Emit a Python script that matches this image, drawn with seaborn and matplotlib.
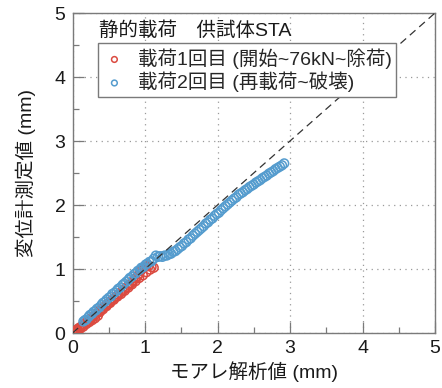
import matplotlib
matplotlib.use("Agg")
import matplotlib.pyplot as plt
import seaborn as sns
import pandas as pd
from matplotlib.ticker import MultipleLocator

# First loading: start -> 76 kN -> unloading (moire value, gauge value) in mm
load1_points = [
    (0.00, 0.00), (0.01, 0.01), (0.02, 0.01), (0.03, 0.02), (0.05, 0.04),
    (0.07, 0.06), (0.09, 0.08), (0.12, 0.10), (0.15, 0.13), (0.18, 0.16),
    (0.21, 0.18), (0.24, 0.21), (0.27, 0.24), (0.30, 0.27), (0.33, 0.30),
    (0.36, 0.33), (0.39, 0.36), (0.42, 0.39), (0.45, 0.42), (0.48, 0.45),
    (0.51, 0.48), (0.54, 0.51), (0.57, 0.54), (0.60, 0.57), (0.63, 0.60),
    (0.66, 0.63), (0.69, 0.66), (0.72, 0.69), (0.75, 0.72), (0.78, 0.75),
    (0.81, 0.78), (0.84, 0.82), (0.87, 0.85), (0.90, 0.89), (0.92, 0.93),
    (0.94, 0.97), (0.96, 1.01), (0.99, 1.03), (1.02, 1.04), (1.05, 1.05),
    (1.09, 1.03), (1.12, 1.02), (1.07, 0.99), (1.02, 0.95), (0.97, 0.90),
    (0.92, 0.86), (0.87, 0.81), (0.82, 0.76), (0.77, 0.71), (0.72, 0.66),
    (0.67, 0.61), (0.62, 0.57), (0.57, 0.52), (0.52, 0.47), (0.47, 0.42),
    (0.42, 0.37), (0.38, 0.33), (0.35, 0.27), (0.31, 0.23), (0.27, 0.20),
    (0.23, 0.17), (0.19, 0.14), (0.15, 0.10), (0.11, 0.07), (0.07, 0.04),
    (0.04, 0.02), (0.02, 0.01), (0.01, 0.00), (0.00, 0.00),
]

# Second loading: reloading -> failure
load2_points = [
    (0.15, 0.18), (0.17, 0.20), (0.19, 0.21), (0.22, 0.25), (0.24, 0.28),
    (0.27, 0.30), (0.29, 0.33), (0.32, 0.35), (0.34, 0.38), (0.37, 0.40),
    (0.40, 0.44), (0.42, 0.47), (0.45, 0.49), (0.47, 0.52), (0.50, 0.55),
    (0.53, 0.57), (0.55, 0.61), (0.58, 0.63), (0.61, 0.66), (0.63, 0.69),
    (0.66, 0.71), (0.69, 0.75), (0.71, 0.77), (0.74, 0.80), (0.77, 0.83),
    (0.79, 0.86), (0.82, 0.88), (0.85, 0.92), (0.87, 0.93), (0.90, 0.97),
    (0.93, 0.99), (0.95, 1.02), (0.98, 1.03), (1.01, 1.07), (1.03, 1.08),
    (1.06, 1.11), (1.09, 1.12), (1.12, 1.16), (1.15, 1.21), (1.18, 1.19),
    (1.21, 1.20), (1.24, 1.19), (1.27, 1.21), (1.30, 1.21), (1.33, 1.23),
    (1.36, 1.24), (1.39, 1.27), (1.42, 1.28), (1.45, 1.31), (1.48, 1.34),
    (1.51, 1.36), (1.54, 1.40), (1.57, 1.42), (1.60, 1.46), (1.63, 1.48),
    (1.66, 1.52), (1.69, 1.55), (1.72, 1.58), (1.75, 1.61), (1.78, 1.64),
    (1.81, 1.67), (1.84, 1.71), (1.87, 1.73), (1.90, 1.77), (1.93, 1.79),
    (1.96, 1.83), (1.99, 1.86), (2.02, 1.88), (2.05, 1.92), (2.08, 1.95),
    (2.11, 1.98), (2.14, 2.01), (2.17, 2.04), (2.20, 2.07), (2.23, 2.10),
    (2.26, 2.12), (2.29, 2.16), (2.32, 2.18), (2.35, 2.20), (2.38, 2.23),
    (2.41, 2.25), (2.44, 2.28), (2.47, 2.30), (2.50, 2.32), (2.53, 2.35),
    (2.56, 2.37), (2.59, 2.39), (2.62, 2.42), (2.65, 2.44), (2.68, 2.46),
    (2.71, 2.49), (2.74, 2.51), (2.77, 2.53), (2.80, 2.56), (2.83, 2.58),
    (2.86, 2.60), (2.89, 2.62), (2.92, 2.65),
]

series_labels = ["載荷1回目 (開始~76kN~除荷)", "載荷2回目 (再載荷~破壊)"]
series_colors = ["#db4a40", "#559cce"]
reference_line = [0, 5]
axis_ticks = [0, 1, 2, 3, 4, 5]

title_text = "静的載荷　供試体STA"
x_label = "モアレ解析値 (mm)"
y_label = "変位計測定値 (mm)"

sns.set_theme(style="white")
fonts = ["Liberation Sans", "Noto Sans CJK JP", "DejaVu Sans"]
plt.rcParams["font.family"] = fonts

fig = plt.figure(figsize=(4.42, 3.88), dpi=100)
ax = fig.add_axes([72.5 / 442, 55 / 388, 362.5 / 442, 320 / 388])

frames = []
for pts, lab in zip([load1_points, load2_points], series_labels):
    df = pd.DataFrame(pts, columns=["moire", "gauge"])
    df["series"] = lab
    frames.append(df)

for df, col in zip(frames, series_colors):
    sns.scatterplot(data=df, x="moire", y="gauge", ax=ax, marker="o", s=40,
                    facecolor="none", edgecolor=col, linewidth=1.1,
                    label=df["series"].iloc[0], zorder=3)

ax.plot(reference_line, reference_line, color="#333333", lw=0.9,
        dashes=(6, 4), zorder=4)

ax.set_xlim(0, 5)
ax.set_ylim(0, 5)
ax.set_xticks(axis_ticks)
ax.set_yticks(axis_ticks)
ax.xaxis.set_minor_locator(MultipleLocator(0.5))
ax.yaxis.set_minor_locator(MultipleLocator(0.5))
ax.tick_params(which="major", direction="in", length=8, width=0.9,
               color="#7a7a7a", labelsize=14, pad=5, colors="#7a7a7a",
               labelcolor="#1a1a1a", bottom=True, left=True)
ax.tick_params(which="minor", direction="in", length=4, width=0.9,
               color="#7a7a7a", bottom=True, left=True)
ax.grid(True, which="major", linestyle=(0, (1, 3.5)), color="#9a9a9a", lw=0.9)
for sp in ax.spines.values():
    sp.set_color("#7a7a7a")
    sp.set_linewidth(1.0)

ax.set_xlabel(x_label, fontsize=14, color="#1a1a1a", labelpad=3)
ax.set_ylabel(y_label, fontsize=14, color="#1a1a1a", labelpad=13)

ax.text(0.073, 0.944, title_text, transform=ax.transAxes, fontsize=14,
        va="center", ha="left", color="#1a1a1a", zorder=6)

leg = ax.legend(loc="upper left", bbox_to_anchor=(0.07, 0.906),
                borderaxespad=0, frameon=True, fancybox=False, framealpha=1,
                edgecolor="#7a7a7a", fontsize=14, markerscale=0.65,
                handletextpad=0.6, handlelength=1.2, borderpad=0.25,
                labelspacing=0.15)
leg.get_frame().set_linewidth(1.0)
leg.set_zorder(7)

fig.savefig("out.png", dpi=100)
